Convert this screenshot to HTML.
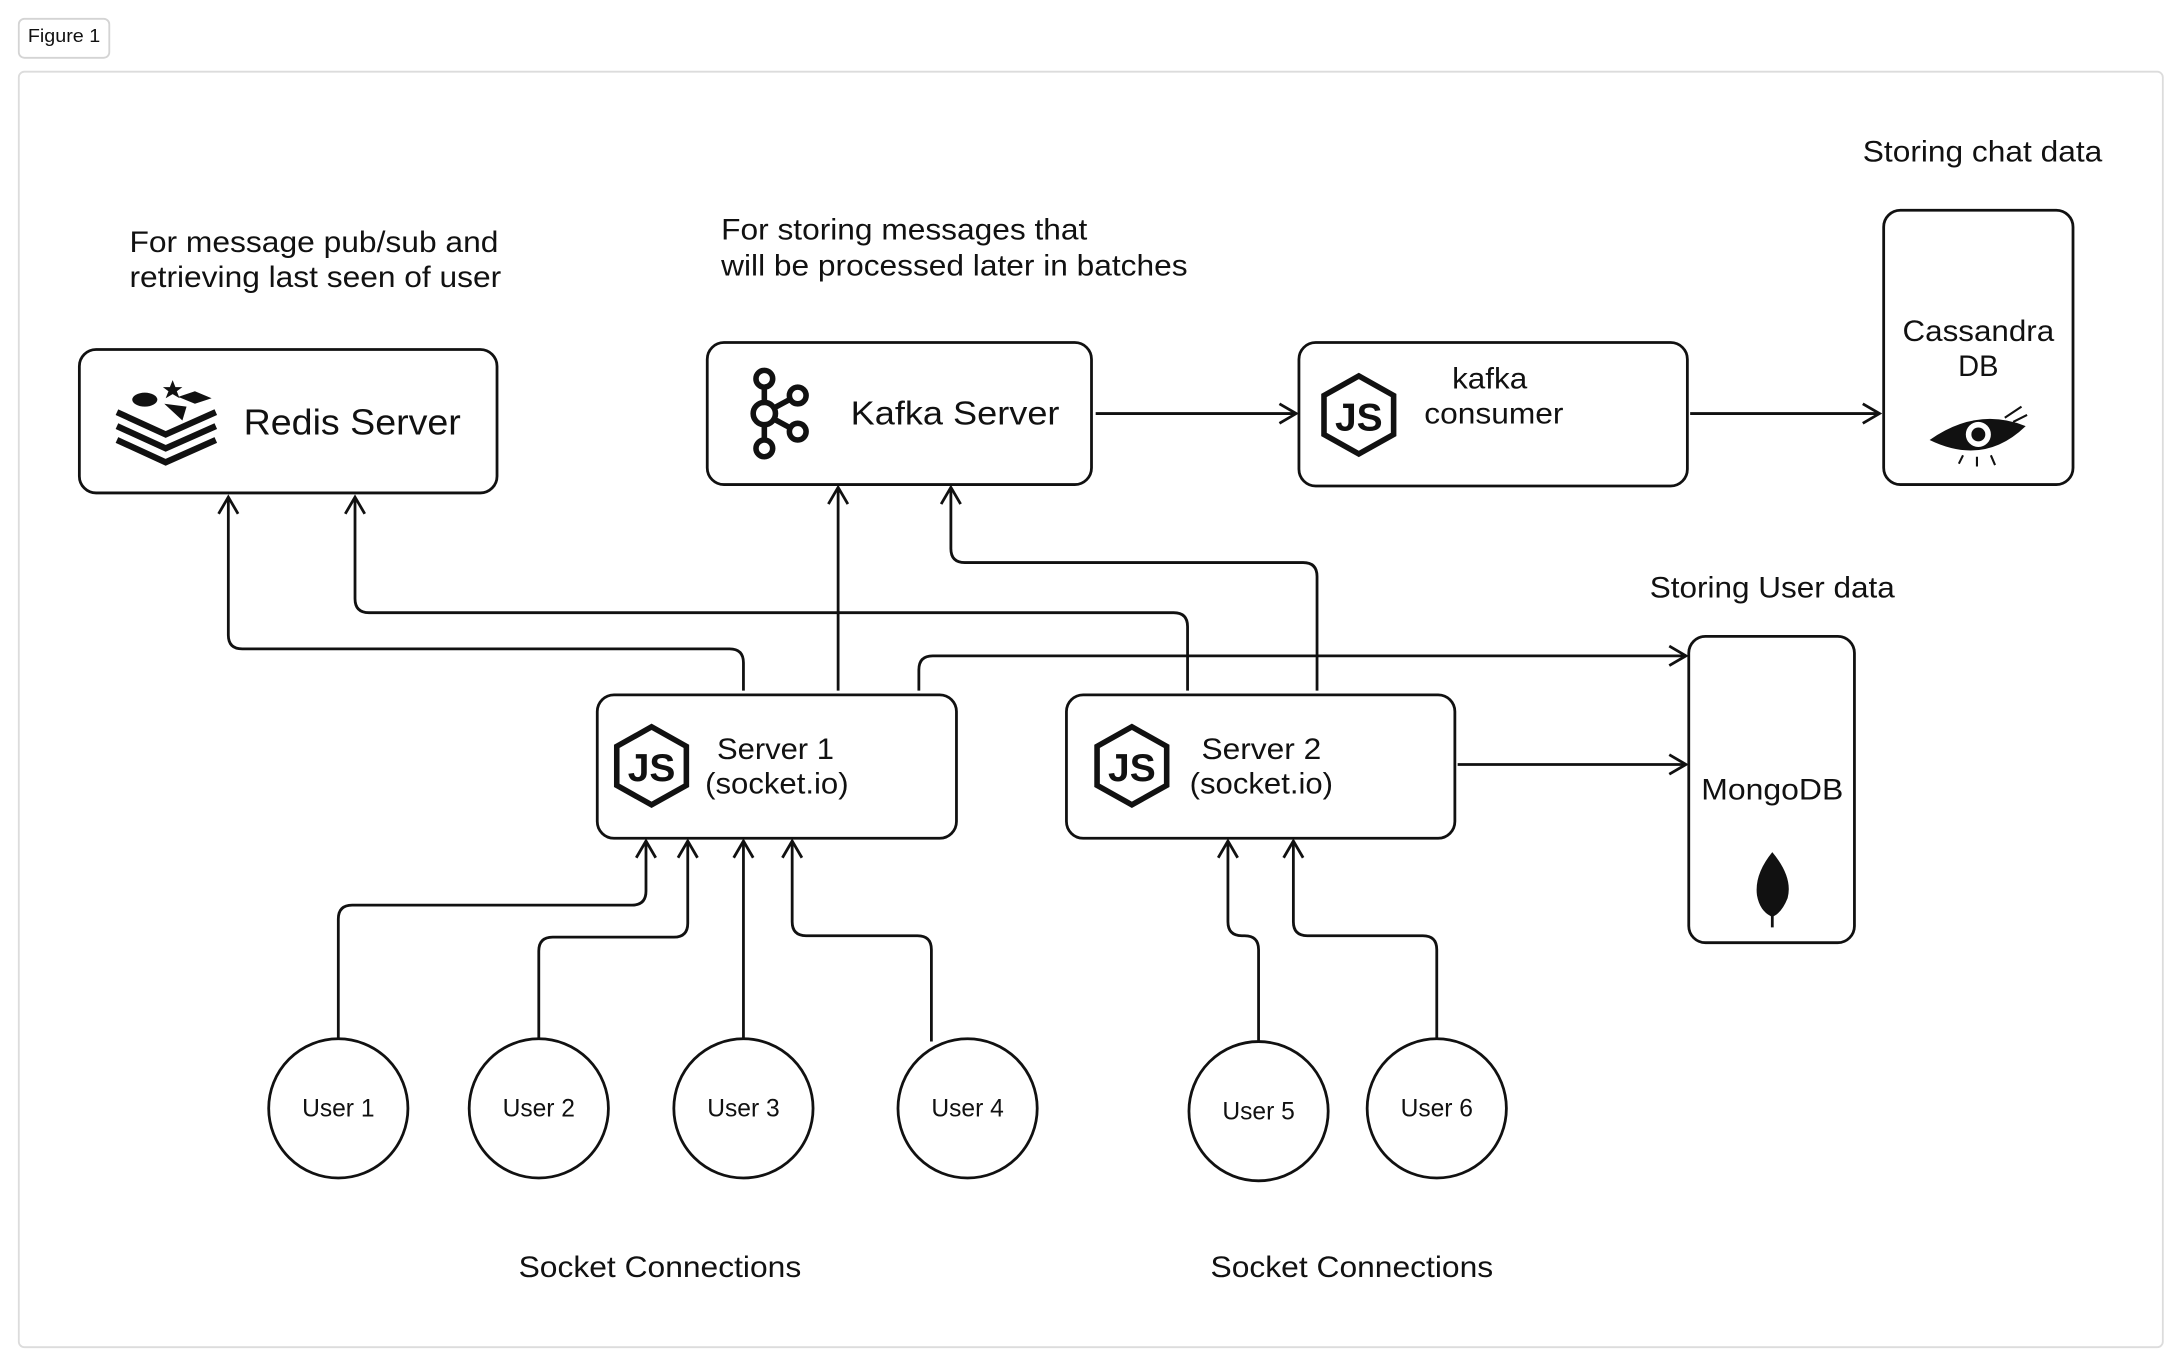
<!DOCTYPE html>
<html><head><meta charset="utf-8"><style>
html,body{margin:0;padding:0;background:#fff;}
svg{display:block;}
text{font-family:"Liberation Sans",sans-serif;fill:#111;}
</style></head><body>
<svg width="2183" height="1366" viewBox="0 0 1568 981" preserveAspectRatio="none" xmlns="http://www.w3.org/2000/svg">
<defs>
<marker id="a" markerWidth="20" markerHeight="20" refX="14" refY="8" orient="auto" markerUnits="userSpaceOnUse">
<path d="M2,1 L14,8 L2,15" fill="none" stroke="#111" stroke-width="2"/>
</marker>
</defs>
<rect x="13.5" y="13.5" width="65" height="28" rx="4" fill="#fff" stroke="#d4d4d4" stroke-width="1.3"/>
<text x="20" y="30" font-size="13" textLength="52" lengthAdjust="spacingAndGlyphs">Figure 1</text>
<rect x="13.5" y="51.5" width="1540" height="916" rx="4" fill="#fff" stroke="#dcdcdc" stroke-width="1.3"/>

<g fill="none" stroke="#111" stroke-width="2">
<rect x="57" y="251" width="300" height="103" rx="12"/>
<rect x="508" y="246" width="276" height="102" rx="12"/>
<rect x="933" y="246" width="279" height="103" rx="12"/>
<rect x="1353" y="151" width="136" height="197" rx="12"/>
<rect x="1213" y="457" width="119" height="220" rx="12"/>
<rect x="429" y="499" width="258" height="103" rx="12"/>
<rect x="766" y="499" width="279" height="103" rx="12"/>
<circle cx="243" cy="796" r="50"/>
<circle cx="387" cy="796" r="50"/>
<circle cx="534" cy="796" r="50"/>
<circle cx="695" cy="796" r="50"/>
<circle cx="904" cy="798" r="50"/>
<circle cx="1032" cy="796" r="50"/>
</g>

<g fill="none" stroke="#111" stroke-width="2" marker-end="url(#a)">
<path d="M787,297 L931,297"/>
<path d="M1214,297 L1350,297"/>
<path d="M1047,549 L1211,549"/>
<path d="M660,496 L660,481 Q660,471 670,471 L1211,471"/>
<path d="M534,496 L534,476 Q534,466 524,466 L174,466 Q164,466 164,456 L164,357"/>
<path d="M602,496 L602,350"/>
<path d="M853,496 L853,450 Q853,440 843,440 L265,440 Q255,440 255,430 L255,357"/>
<path d="M946,496 L946,414 Q946,404 936,404 L693,404 Q683,404 683,394 L683,350"/>
<path d="M243,746 L243,660 Q243,650 253,650 L454,650 Q464,650 464,640 L464,604"/>
<path d="M387,746 L387,683 Q387,673 397,673 L484,673 Q494,673 494,663 L494,604"/>
<path d="M534,746 L534,604"/>
<path d="M669,748 L669,682 Q669,672 659,672 L579,672 Q569,672 569,662 L569,604"/>
<path d="M904,748 L904,682 Q904,672 894,672 L892,672 Q882,672 882,662 L882,604"/>
<path d="M1032,746 L1032,682 Q1032,672 1022,672 L939,672 Q929,672 929,662 L929,604"/>
</g>

<g fill="none" stroke="#111" stroke-width="4.5" stroke-linejoin="miter">
<path d="M84,296 L119,312 L155,296"/>
<path d="M84,306 L119,322 L155,306"/>
<path d="M84,316 L119,332 L155,316"/>
</g>
<g fill="#111">
<ellipse cx="104" cy="287" rx="9" ry="5"/>
<path d="M118,290 L134,292 L131,302 Z"/>
<path d="M128,285 L140,281 L152,286 L140,290 Z"/>
<path d="M124,273 l2,5 5,0 -4,3 2,5 -5,-3 -5,3 2,-5 -4,-3 5,0z"/>
</g>
<text x="175" y="312" font-size="26" textLength="156" lengthAdjust="spacingAndGlyphs">Redis Server</text>
<text x="93" y="181" font-size="21" textLength="265" lengthAdjust="spacingAndGlyphs">For message pub/sub and</text>
<text x="93" y="206" font-size="21" textLength="267" lengthAdjust="spacingAndGlyphs">retrieving last seen of user</text>

<g fill="none" stroke="#111" stroke-width="4">
<circle cx="549" cy="272" r="6"/>
<circle cx="549" cy="297" r="8"/>
<circle cx="549" cy="322" r="6"/>
<circle cx="573" cy="284" r="6"/>
<circle cx="573" cy="310" r="6"/>
<path d="M549,278 L549,289 M549,305 L549,316 M556,293 L567,287 M556,301 L567,307"/>
</g>
<text x="611" y="305" font-size="24" textLength="150" lengthAdjust="spacingAndGlyphs">Kafka Server</text>
<text x="518" y="172" font-size="21" textLength="263" lengthAdjust="spacingAndGlyphs">For storing messages that</text>
<text x="518" y="198" font-size="21" textLength="335" lengthAdjust="spacingAndGlyphs">will be processed later in batches</text>

<g fill="none" stroke="#111" stroke-width="4">
<path d="M976,270 L1001,284 L1001,312 L976,326 L951,312 L951,284 Z"/>
<path d="M468,522 L493,536 L493,564 L468,578 L443,564 L443,536 Z"/>
<path d="M813,522 L838,536 L838,564 L813,578 L788,564 L788,536 Z"/>
</g>
<text x="976" y="309" font-size="28" font-weight="bold" text-anchor="middle">JS</text>
<text x="468" y="561" font-size="28" font-weight="bold" text-anchor="middle">JS</text>
<text x="813" y="561" font-size="28" font-weight="bold" text-anchor="middle">JS</text>
<text x="1070" y="279" font-size="21" text-anchor="middle" textLength="54" lengthAdjust="spacingAndGlyphs">kafka</text>
<text x="1073" y="304" font-size="21" text-anchor="middle" textLength="100" lengthAdjust="spacingAndGlyphs">consumer</text>

<text x="557" y="545" font-size="21" text-anchor="middle" textLength="84" lengthAdjust="spacingAndGlyphs">Server 1</text>
<text x="558" y="570" font-size="21" text-anchor="middle" textLength="103" lengthAdjust="spacingAndGlyphs">(socket.io)</text>
<text x="906" y="545" font-size="21" text-anchor="middle" textLength="86" lengthAdjust="spacingAndGlyphs">Server 2</text>
<text x="906" y="570" font-size="21" text-anchor="middle" textLength="103" lengthAdjust="spacingAndGlyphs">(socket.io)</text>

<text x="1424" y="116" font-size="21" text-anchor="middle" textLength="172" lengthAdjust="spacingAndGlyphs">Storing chat data</text>
<text x="1421" y="245" font-size="21" text-anchor="middle" textLength="109" lengthAdjust="spacingAndGlyphs">Cassandra</text>
<text x="1421" y="270" font-size="21" text-anchor="middle" textLength="29" lengthAdjust="spacingAndGlyphs">DB</text>
<path d="M1386,316 Q1420,292 1455,306 Q1425,335 1386,316 Z" fill="#111"/>
<circle cx="1421" cy="312" r="9" fill="#fff"/>
<circle cx="1421" cy="312" r="5" fill="#111"/>
<g stroke="#111" stroke-width="1.5"><path d="M1440,300 l12,-8 M1446,303 l10,-5 M1430,327 l3,7 M1420,328 l0,7 M1410,327 l-3,6"/></g>

<text x="1273" y="429" font-size="21" text-anchor="middle" textLength="176" lengthAdjust="spacingAndGlyphs">Storing User data</text>
<text x="1273" y="574" font-size="21" text-anchor="middle" textLength="102" lengthAdjust="spacingAndGlyphs">MongoDB</text>
<path d="M1273,612 Q1288,630 1284,645 Q1280,655 1274,658 L1274,666 L1272,666 L1272,658 Q1264,654 1262,643 Q1260,628 1273,612 Z" fill="#111"/>

<g font-size="18" text-anchor="middle" lengthAdjust="spacingAndGlyphs">
<text x="243" y="802" textLength="52" lengthAdjust="spacingAndGlyphs">User 1</text>
<text x="387" y="802" textLength="52" lengthAdjust="spacingAndGlyphs">User 2</text>
<text x="534" y="802" textLength="52" lengthAdjust="spacingAndGlyphs">User 3</text>
<text x="695" y="802" textLength="52" lengthAdjust="spacingAndGlyphs">User 4</text>
<text x="904" y="804" textLength="52" lengthAdjust="spacingAndGlyphs">User 5</text>
<text x="1032" y="802" textLength="52" lengthAdjust="spacingAndGlyphs">User 6</text>
</g>
<text x="474" y="917" font-size="21" text-anchor="middle" textLength="203" lengthAdjust="spacingAndGlyphs">Socket Connections</text>
<text x="971" y="917" font-size="21" text-anchor="middle" textLength="203" lengthAdjust="spacingAndGlyphs">Socket Connections</text>
</svg>
</body></html>
